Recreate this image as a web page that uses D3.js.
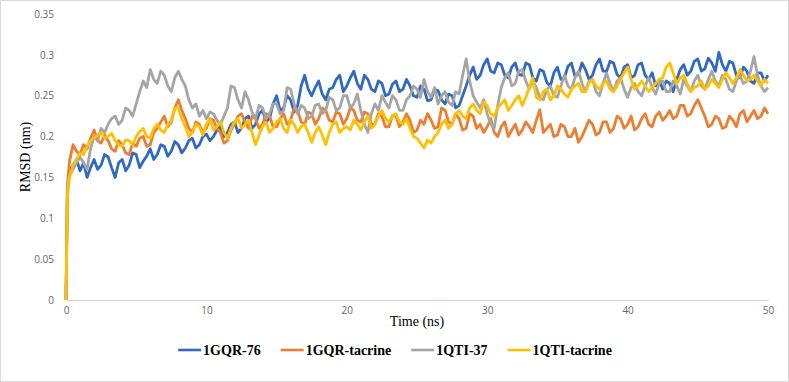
<!DOCTYPE html>
<html>
<head>
<meta charset="utf-8">
<script src="https://cdn.jsdelivr.net/npm/d3@7"></script>
<style>
  body { margin: 0; background: #fff; }
  svg { display: block; }
</style>
</head>
<body>
<svg id="chart"></svg>
<script>
// sample times (ns): 0, 0.1, then every 0.25 ns
const times = [0, 0.1].concat(d3.range(0.25, 50.01, 0.25));

const seriesNames = ['1GQR-76', '1GQR-tacrine', '1QTI-37', '1QTI-tacrine'];
const seriesColors = ['#3169c2', '#ed7d31', '#a5a5a5', '#ffc000'];

// one row = 5 ns (20 samples)
const gqr76 = [0, 0.13,
  0.158, 0.165, 0.172, 0.158, 0.168, 0.15, 0.162, 0.172, 0.16, 0.165, 0.178, 0.175, 0.162, 0.15, 0.168, 0.172, 0.158, 0.165, 0.18, 0.178,
  0.162, 0.17, 0.176, 0.185, 0.172, 0.178, 0.19, 0.188, 0.176, 0.182, 0.194, 0.19, 0.18, 0.186, 0.195, 0.198, 0.186, 0.19, 0.2, 0.203,
  0.195, 0.2, 0.208, 0.212, 0.2, 0.205, 0.215, 0.218, 0.205, 0.21, 0.222, 0.225, 0.21, 0.215, 0.228, 0.232, 0.218, 0.222, 0.24, 0.25,
  0.232, 0.235, 0.25, 0.245, 0.23, 0.238, 0.262, 0.275, 0.258, 0.25, 0.26, 0.268, 0.252, 0.245, 0.258, 0.26, 0.27, 0.275, 0.255, 0.262,
  0.272, 0.28, 0.265, 0.258, 0.275, 0.27, 0.258, 0.255, 0.268, 0.265, 0.25, 0.252, 0.264, 0.268, 0.255, 0.258, 0.27, 0.262, 0.25, 0.248,
  0.262, 0.258, 0.244, 0.245, 0.258, 0.256, 0.245, 0.24, 0.252, 0.25, 0.235, 0.238, 0.25, 0.262, 0.275, 0.285, 0.27, 0.275, 0.288, 0.295,
  0.28, 0.278, 0.29, 0.288, 0.275, 0.272, 0.285, 0.29, 0.276, 0.275, 0.29, 0.288, 0.272, 0.268, 0.282, 0.28, 0.266, 0.262, 0.278, 0.285,
  0.27, 0.272, 0.286, 0.29, 0.274, 0.276, 0.29, 0.282, 0.27, 0.275, 0.288, 0.295, 0.28, 0.28, 0.292, 0.29, 0.276, 0.272, 0.285, 0.288,
  0.272, 0.275, 0.288, 0.29, 0.275, 0.27, 0.278, 0.262, 0.27, 0.258, 0.268, 0.265, 0.255, 0.27, 0.282, 0.288, 0.275, 0.28, 0.292, 0.295,
  0.28, 0.283, 0.296, 0.29, 0.28, 0.303, 0.288, 0.28, 0.292, 0.29, 0.275, 0.272, 0.285, 0.28, 0.268, 0.265, 0.278, 0.278, 0.268, 0.275];

const gqrTacrine = [0, 0.14,
  0.17, 0.19, 0.182, 0.178, 0.19, 0.185, 0.198, 0.208, 0.195, 0.192, 0.202, 0.195, 0.185, 0.182, 0.195, 0.19, 0.18, 0.178, 0.192, 0.188,
  0.198, 0.2, 0.188, 0.19, 0.205, 0.21, 0.218, 0.225, 0.212, 0.218, 0.235, 0.245, 0.232, 0.222, 0.21, 0.205, 0.218, 0.215, 0.205, 0.21,
  0.222, 0.22, 0.21, 0.205, 0.192, 0.195, 0.208, 0.215, 0.225, 0.228, 0.218, 0.21, 0.225, 0.222, 0.21, 0.215, 0.228, 0.225, 0.212, 0.212,
  0.222, 0.228, 0.215, 0.22, 0.235, 0.232, 0.218, 0.215, 0.23, 0.228, 0.215, 0.222, 0.235, 0.232, 0.22, 0.218, 0.23, 0.228, 0.215, 0.222,
  0.235, 0.232, 0.22, 0.218, 0.23, 0.228, 0.215, 0.215, 0.228, 0.225, 0.212, 0.212, 0.226, 0.225, 0.212, 0.218, 0.228, 0.22, 0.205, 0.208,
  0.22, 0.215, 0.228, 0.22, 0.21, 0.212, 0.235, 0.232, 0.218, 0.215, 0.228, 0.222, 0.208, 0.21, 0.228, 0.225, 0.21, 0.215, 0.205, 0.212,
  0.222, 0.205, 0.2, 0.212, 0.218, 0.2, 0.208, 0.215, 0.202, 0.208, 0.218, 0.212, 0.205, 0.22, 0.233, 0.205, 0.21, 0.215, 0.2, 0.202,
  0.215, 0.212, 0.2, 0.2, 0.21, 0.193, 0.2, 0.21, 0.22, 0.215, 0.202, 0.205, 0.218, 0.218, 0.205, 0.21, 0.225, 0.222, 0.21, 0.215,
  0.225, 0.208, 0.212, 0.222, 0.228, 0.215, 0.212, 0.225, 0.23, 0.22, 0.225, 0.232, 0.222, 0.225, 0.238, 0.238, 0.225, 0.228, 0.238, 0.245,
  0.235, 0.225, 0.212, 0.215, 0.225, 0.222, 0.21, 0.212, 0.225, 0.22, 0.212, 0.228, 0.232, 0.218, 0.225, 0.232, 0.222, 0.225, 0.235, 0.228];

const qti37 = [0, 0.14,
  0.152, 0.16, 0.168, 0.175, 0.168, 0.16, 0.185, 0.2, 0.195, 0.21, 0.205, 0.215, 0.222, 0.225, 0.215, 0.22, 0.235, 0.232, 0.225, 0.24,
  0.255, 0.268, 0.26, 0.282, 0.27, 0.265, 0.28, 0.275, 0.262, 0.255, 0.272, 0.28, 0.27, 0.262, 0.245, 0.235, 0.24, 0.225, 0.232, 0.222,
  0.23, 0.228, 0.22, 0.215, 0.225, 0.235, 0.262, 0.26, 0.245, 0.235, 0.255, 0.245, 0.23, 0.222, 0.238, 0.235, 0.222, 0.228, 0.24, 0.24,
  0.228, 0.232, 0.26, 0.258, 0.24, 0.228, 0.238, 0.235, 0.222, 0.225, 0.238, 0.24, 0.228, 0.232, 0.248, 0.245, 0.232, 0.235, 0.25, 0.25,
  0.235, 0.24, 0.252, 0.232, 0.215, 0.205, 0.228, 0.24, 0.232, 0.25, 0.242, 0.235, 0.25, 0.245, 0.232, 0.232, 0.245, 0.25, 0.262, 0.258,
  0.248, 0.27, 0.255, 0.248, 0.26, 0.24, 0.25, 0.255, 0.242, 0.238, 0.255, 0.252, 0.275, 0.295, 0.268, 0.25, 0.242, 0.235, 0.245, 0.228,
  0.215, 0.21, 0.238, 0.26, 0.272, 0.278, 0.262, 0.265, 0.28, 0.282, 0.268, 0.258, 0.268, 0.26, 0.248, 0.245, 0.258, 0.262, 0.25, 0.248,
  0.262, 0.275, 0.262, 0.258, 0.272, 0.28, 0.265, 0.255, 0.268, 0.27, 0.255, 0.25, 0.265, 0.278, 0.265, 0.255, 0.268, 0.272, 0.258, 0.248,
  0.26, 0.265, 0.255, 0.25, 0.262, 0.272, 0.26, 0.252, 0.265, 0.268, 0.255, 0.255, 0.268, 0.262, 0.252, 0.27, 0.262, 0.255, 0.268, 0.275,
  0.262, 0.258, 0.27, 0.28, 0.268, 0.262, 0.275, 0.27, 0.258, 0.255, 0.268, 0.275, 0.265, 0.268, 0.28, 0.298, 0.275, 0.262, 0.255, 0.26];

const qtiTacrine = [0, 0.125,
  0.15, 0.165, 0.172, 0.18, 0.178, 0.188, 0.195, 0.198, 0.202, 0.205, 0.198, 0.2, 0.204, 0.195, 0.19, 0.188, 0.196, 0.195, 0.19, 0.2,
  0.206, 0.21, 0.2, 0.198, 0.21, 0.215, 0.208, 0.205, 0.215, 0.22, 0.235, 0.235, 0.222, 0.212, 0.2, 0.205, 0.215, 0.212, 0.202, 0.215,
  0.222, 0.208, 0.212, 0.218, 0.205, 0.198, 0.21, 0.218, 0.222, 0.21, 0.215, 0.22, 0.205, 0.19, 0.202, 0.212, 0.218, 0.205, 0.21, 0.218,
  0.222, 0.21, 0.205, 0.22, 0.215, 0.205, 0.212, 0.215, 0.205, 0.193, 0.205, 0.212, 0.202, 0.19, 0.205, 0.215, 0.218, 0.205, 0.21, 0.212,
  0.208, 0.22, 0.215, 0.208, 0.218, 0.225, 0.21, 0.215, 0.225, 0.232, 0.222, 0.218, 0.225, 0.228, 0.218, 0.215, 0.222, 0.21, 0.2, 0.198,
  0.192, 0.186, 0.196, 0.192, 0.2, 0.205, 0.215, 0.22, 0.21, 0.215, 0.228, 0.232, 0.225, 0.222, 0.235, 0.24, 0.232, 0.228, 0.242, 0.238,
  0.228, 0.225, 0.235, 0.24, 0.245, 0.232, 0.238, 0.245, 0.25, 0.238, 0.248, 0.26, 0.272, 0.248, 0.245, 0.255, 0.258, 0.245, 0.25, 0.262,
  0.258, 0.252, 0.248, 0.258, 0.262, 0.265, 0.255, 0.255, 0.265, 0.27, 0.262, 0.258, 0.265, 0.268, 0.258, 0.255, 0.262, 0.27, 0.278, 0.285,
  0.27, 0.258, 0.262, 0.268, 0.262, 0.255, 0.26, 0.265, 0.27, 0.272, 0.285, 0.29, 0.278, 0.265, 0.272, 0.275, 0.265, 0.255, 0.26, 0.262,
  0.268, 0.258, 0.262, 0.27, 0.265, 0.26, 0.27, 0.278, 0.272, 0.265, 0.272, 0.282, 0.275, 0.268, 0.27, 0.275, 0.268, 0.262, 0.27, 0.265];

const xTicks = [0, 10, 20, 30, 40, 50];
const yTicks = [0, 0.05, 0.1, 0.15, 0.2, 0.25, 0.3, 0.35];

const allSeries = [gqr76, gqrTacrine, qti37, qtiTacrine];

const W = 789, H = 382;
const margin = { top: 14, right: 21, bottom: 82, left: 66 };

const svg = d3.select('#chart').attr('width', W).attr('height', H);

// outer border
svg.append('rect')
  .attr('x', 0.5).attr('y', 0.5)
  .attr('width', W - 1).attr('height', H - 1)
  .attr('fill', '#fff').attr('stroke', '#d9d9d9');

const x = d3.scaleLinear().domain([0, 50]).range([margin.left, W - margin.right]);
const y = d3.scaleLinear().domain([0, 0.35]).range([H - margin.bottom, margin.top]);

// x axis
const xAxisG = svg.append('g')
  .attr('transform', `translate(0,${y(0)})`)
  .call(d3.axisBottom(x).tickValues(xTicks).tickSize(0).tickPadding(7).tickFormat(d3.format('d')));
xAxisG.select('.domain').attr('stroke', '#d9d9d9').attr('stroke-width', 1.3);
xAxisG.selectAll('text')
  .attr('fill', '#666').style('font-family', '"Open Sans", sans-serif').style('font-size', '10px');

// y axis
const yAxisG = svg.append('g')
  .attr('transform', `translate(${margin.left - 12},0)`)
  .call(d3.axisLeft(y).tickValues(yTicks).tickSize(0).tickPadding(0).tickFormat(d => d3.format('')(+d.toFixed(2))));
yAxisG.select('.domain').remove();
yAxisG.selectAll('text')
  .attr('fill', '#666').style('font-family', '"Open Sans", sans-serif').style('font-size', '10px');

// lines
const line = d3.line()
  .defined((d, i) => times[i] !== undefined)
  .x((d, i) => x(times[i]))
  .y(d => y(d));

svg.append('g').selectAll('path')
  .data(allSeries)
  .enter()
  .append('path')
  .attr('d', d => line(d))
  .attr('fill', 'none')
  .attr('stroke', (d, i) => seriesColors[i])
  .attr('stroke-width', 2.8)
  .attr('stroke-linejoin', 'round');

// axis titles
svg.append('text')
  .attr('x', (x(0) + x(50)) / 2)
  .attr('y', 326)
  .attr('text-anchor', 'middle')
  .style('font-family', '"Liberation Serif", "Times New Roman", serif')
  .style('font-size', '14px')
  .attr('fill', '#000')
  .text('Time (ns)');

svg.append('text')
  .attr('transform', `translate(30,${(y(0) + y(0.35)) / 2}) rotate(-90)`)
  .attr('text-anchor', 'middle')
  .style('font-family', '"Liberation Serif", "Times New Roman", serif')
  .style('font-size', '14px')
  .attr('fill', '#000')
  .text('RMSD (nm)');

// legend
const legend = svg.append('g');
const items = legend.selectAll('g')
  .data(seriesNames)
  .enter()
  .append('g');
items.append('line')
  .attr('x1', 0).attr('x2', 23)
  .attr('y1', 0).attr('y2', 0)
  .attr('stroke', (d, i) => seriesColors[i])
  .attr('stroke-width', 2.6);
items.append('text')
  .attr('x', 25).attr('y', 5)
  .style('font-family', '"Liberation Serif", "Times New Roman", serif')
  .style('font-size', '14px')
  .style('font-weight', 'bold')
  .text(d => d);

let pos = 0;
const gap = 20;
const widths = [];
items.each(function () {
  const w = 25 + d3.select(this).select('text').node().getComputedTextLength();
  widths.push(w);
});
const total = d3.sum(widths) + gap * (widths.length - 1);
let start = 395 - total / 2;
items.attr('transform', (d, i) => {
  const t = `translate(${start + pos},350)`;
  pos += widths[i] + gap;
  return t;
});
</script>
</body>
</html>
